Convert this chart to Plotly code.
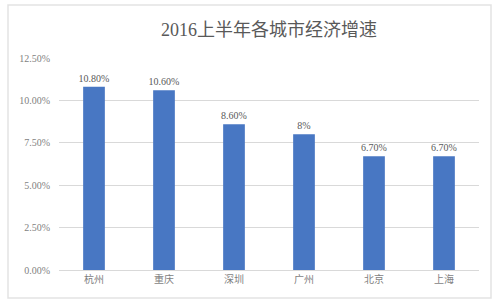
import plotly.graph_objects as go

cities = ["杭州", "重庆", "深圳", "广州", "北京", "上海"]
growth = [0.108, 0.106, 0.086, 0.08, 0.067, 0.067]
labels = ["10.80%", "10.60%", "8.60%", "8%", "6.70%", "6.70%"]
y_ticks = [0, 0.025, 0.05, 0.075, 0.10, 0.125]

L, R, T, B = 59, 21, 58, 36
W, H = 500, 306
pw, ph = W - L - R, H - T - B

def px(x):
    return (x - L) / pw

def py(y):
    return (H - B - y) / ph

fig = go.Figure(go.Bar(
    x=cities, y=growth, text=labels, textposition="outside",
    constraintext="none",
    marker=dict(color="#4877C3", line=dict(width=0)),
    width=0.31, cliponaxis=False,
    textfont=dict(family="Liberation Serif, Noto Sans CJK SC", size=10, color="#595959"),
))

fig.update_layout(
    width=W, height=H,
    margin=dict(l=L, r=R, t=T, b=B),
    paper_bgcolor="white", plot_bgcolor="white",
    showlegend=False,
    title=dict(text="2016上半年各城市经济增速", x=0.5, xref="paper", xanchor="center",
               y=1 - 30 / H, yanchor="middle",
               font=dict(family="Liberation Serif, Noto Sans CJK SC", size=18, color="#595959")),
    xaxis=dict(showgrid=False, showline=True, linecolor="#d9d9d9", linewidth=1,
               ticks="", tickfont=dict(family="Liberation Serif, Noto Sans CJK SC", size=10, color="#7f7f7f")),
    yaxis=dict(range=[0, 0.125], tickvals=y_ticks, tickformat=".2%",
               showgrid=True, gridcolor="#d9d9d9", gridwidth=1, zeroline=False,
               showline=False, ticks="", ticklabelstandoff=8,
               tickfont=dict(family="Liberation Serif", size=10, color="#7f7f7f")),
    shapes=[dict(type="rect", xref="paper", yref="paper",
                 x0=px(8), x1=px(491), y0=py(298), y1=py(5),
                 line=dict(color="#e3e3e3", width=1.5), layer="below")],
)

fig.write_html("out.html")
